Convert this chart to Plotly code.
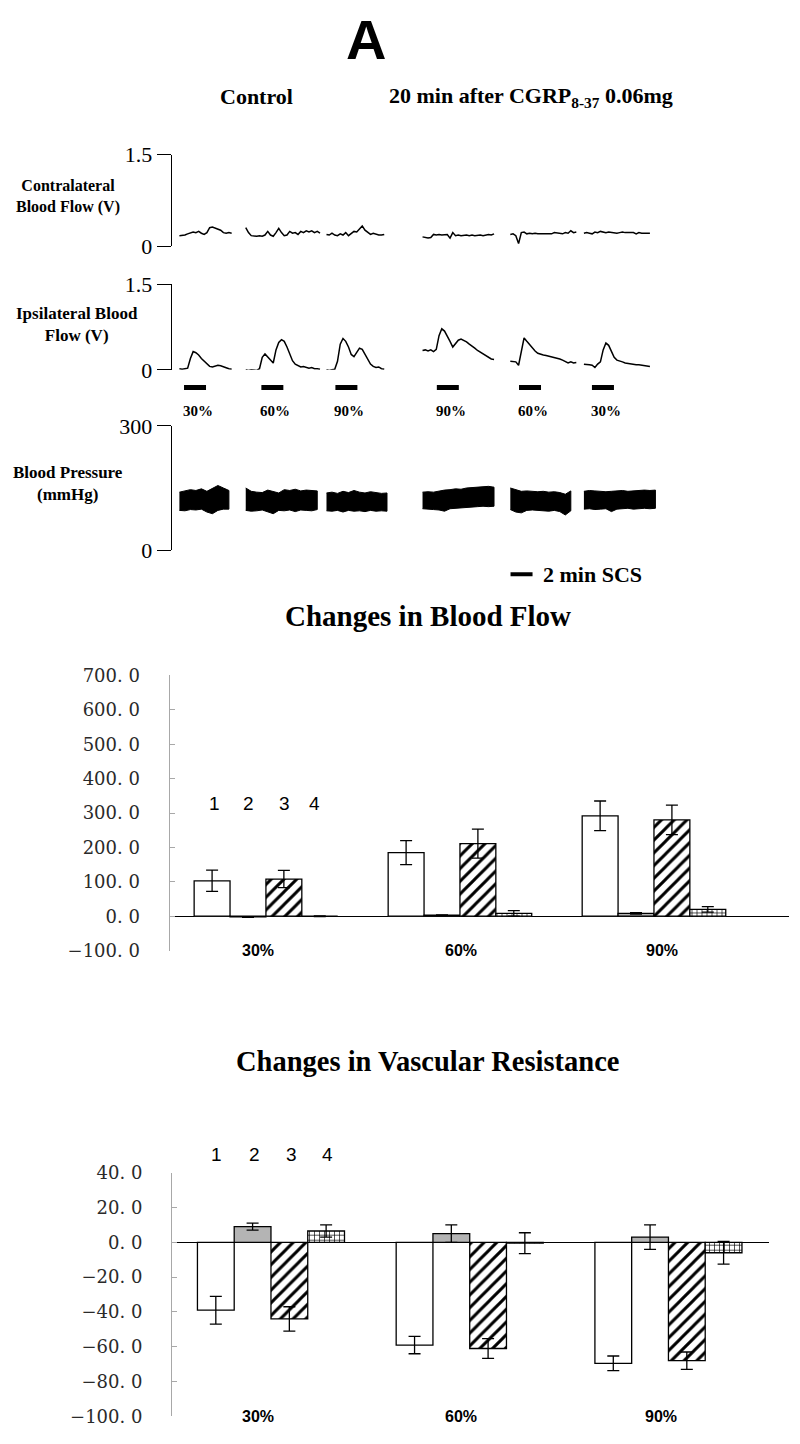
import plotly.graph_objects as go

W, H = 800, 1444

# ------------------------------------------------------------------ trace data
FLOW_STEP = 0.25          # minutes per sample (flow recordings)
BP_STEP = 0.5             # minutes per sample (pressure envelopes)
seg_start = [0.7, 6.73, 14.07, 22.8, 30.78, 37.47]   # minutes

contra = [
    [0.17, 0.17, 0.18, 0.20, 0.22, 0.23, 0.22, 0.24, 0.21, 0.19, 0.22, 0.30, 0.31, 0.29, 0.27, 0.26, 0.22, 0.21, 0.22, 0.21],
    [0.30, 0.22, 0.17, 0.16, 0.16, 0.17, 0.16, 0.18, 0.24, 0.18, 0.16, 0.22, 0.29, 0.22, 0.17, 0.18, 0.24, 0.21, 0.22, 0.19, 0.24, 0.22, 0.25, 0.23, 0.25, 0.22, 0.24, 0.21],
    [0.19, 0.18, 0.21, 0.18, 0.17, 0.20, 0.18, 0.22, 0.17, 0.20, 0.24, 0.23, 0.29, 0.33, 0.26, 0.22, 0.19, 0.21, 0.19, 0.18, 0.18, 0.19],
    [0.15, 0.14, 0.13, 0.14, 0.19, 0.18, 0.19, 0.18, 0.18, 0.19, 0.13, 0.22, 0.17, 0.18, 0.17, 0.18, 0.18, 0.17, 0.18, 0.17, 0.18, 0.18, 0.17, 0.18, 0.19, 0.18, 0.20],
    [0.19, 0.20, 0.17, 0.04, 0.22, 0.23, 0.20, 0.21, 0.20, 0.21, 0.20, 0.20, 0.21, 0.20, 0.21, 0.20, 0.22, 0.21, 0.21, 0.20, 0.22, 0.21, 0.25, 0.22, 0.23],
    [0.21, 0.22, 0.21, 0.20, 0.23, 0.22, 0.24, 0.23, 0.22, 0.23, 0.22, 0.22, 0.21, 0.22, 0.23, 0.22, 0.22, 0.21, 0.22, 0.20, 0.22, 0.21, 0.21, 0.22, 0.21],
]

ipsi = [
    [0.02, 0.01, 0.02, 0.03, 0.20, 0.32, 0.30, 0.26, 0.20, 0.15, 0.10, 0.06, 0.05, 0.07, 0.08, 0.07, 0.05, 0.03, 0.02, 0.01],
    [0.00, -0.01, 0.00, 0.00, -0.01, 0.02, 0.22, 0.28, 0.22, 0.16, 0.12, 0.35, 0.48, 0.53, 0.50, 0.40, 0.28, 0.16, 0.10, 0.07, 0.05, 0.06, 0.04, 0.03, 0.04, 0.02, 0.02, 0.01],
    [0.00, -0.01, 0.00, 0.01, 0.15, 0.45, 0.55, 0.50, 0.40, 0.27, 0.23, 0.30, 0.38, 0.36, 0.28, 0.18, 0.10, 0.06, 0.04, 0.05, 0.02, 0.01],
    [0.34, 0.35, 0.33, 0.35, 0.32, 0.36, 0.60, 0.72, 0.68, 0.60, 0.50, 0.40, 0.47, 0.52, 0.54, 0.52, 0.49, 0.45, 0.42, 0.38, 0.34, 0.31, 0.27, 0.24, 0.21, 0.19, 0.18],
    [0.15, 0.14, 0.14, 0.08, 0.30, 0.56, 0.50, 0.44, 0.38, 0.33, 0.29, 0.27, 0.26, 0.25, 0.24, 0.23, 0.22, 0.20, 0.19, 0.17, 0.15, 0.12, 0.14, 0.12, 0.13],
    [0.10, 0.10, 0.09, 0.08, 0.04, 0.10, 0.14, 0.35, 0.47, 0.43, 0.33, 0.22, 0.17, 0.16, 0.14, 0.12, 0.11, 0.11, 0.10, 0.09, 0.09, 0.08, 0.08, 0.07, 0.06],
]

bp_hi = [
    [140, 143, 146, 144, 148, 142, 150, 156, 150, 144],
    [150, 142, 140, 139, 145, 141, 138, 146, 144, 147, 143, 145, 144, 143],
    [138, 140, 137, 142, 139, 144, 140, 138, 141, 139, 137, 138],
    [140, 141, 140, 143, 145, 146, 148, 147, 150, 151, 152, 153, 154, 152],
    [150, 146, 142, 143, 142, 141, 142, 140, 141, 139, 135, 143],
    [142, 144, 143, 142, 141, 142, 143, 144, 142, 143, 144, 145, 144, 145],
]
bp_lo = [
    [96, 95, 98, 97, 99, 92, 88, 96, 99, 99],
    [96, 94, 95, 97, 92, 88, 96, 95, 97, 93, 97, 96, 95, 98],
    [95, 94, 96, 92, 96, 94, 95, 93, 96, 94, 95, 94],
    [100, 99, 98, 97, 94, 100, 101, 102, 103, 104, 105, 106, 105, 106],
    [98, 92, 90, 96, 97, 96, 95, 94, 96, 93, 85, 95],
    [99, 100, 98, 99, 100, 93, 99, 100, 101, 99, 100, 101, 100, 101],
]

stim_start = [1.12, 8.15, 14.88, 24.1, 31.57, 38.2]   # minutes
stim_dur = 2.0
stim_labels = ["30%", "60%", "90%", "90%", "60%", "30%"]
scale_bar_start = 30.8
scale_bar_len = 2.0

# ------------------------------------------------------------------ bar data
categories = ["30%", "60%", "90%"]
series_labels = ["1", "2", "3", "4"]
flow_mean = [[103, 185, 292], [-2, 3, 8], [108, 211, 280], [0, 8, 20]]
flow_err = [[31, 35, 43], [1, 1, 2], [25, 42, 43], [1, 8, 8]]
res_mean = [[-39, -59, -69.5], [9, 5, 3], [-44, -61, -68], [6.5, -0.5, -6]]
res_err = [[8, 5, 4.2], [2, 5, 7], [7, 5.7, 5], [3.5, 6, 6.5]]

flow_ticks = [700, 600, 500, 400, 300, 200, 100, 0, -100]
flow_ticktext = ["700. 0", "600. 0", "500. 0", "400. 0", "300. 0", "200. 0", "100. 0", "0. 0", "\u2212100. 0"]
res_ticks = [40, 20, 0, -20, -40, -60, -80, -100]
res_ticktext = ["40. 0", "20. 0", "0. 0", "\u221220. 0", "\u221240. 0", "\u221260. 0", "\u221280. 0", "\u2212100. 0"]

# ------------------------------------------------------------------ helpers
OFF = 8  # page body margin compensation (px)

def px(xp):
    return (xp - OFF) / W

def py(yp):
    return 1 - (yp - OFF) / H

SERIF = "Liberation Serif"
fig = go.Figure()

# trace panels
for k in range(6):
    t = [seg_start[k] + i * FLOW_STEP for i in range(len(contra[k]))]
    fig.add_trace(go.Scatter(x=t, y=contra[k], mode="lines", line=dict(color="black", width=1.5),
                             xaxis="x", yaxis="y", hoverinfo="skip"))
    t2 = [seg_start[k] + i * FLOW_STEP for i in range(len(ipsi[k]))]
    fig.add_trace(go.Scatter(x=t2, y=ipsi[k], mode="lines", line=dict(color="black", width=1.5),
                             xaxis="x2", yaxis="y2", hoverinfo="skip"))
    tb = [seg_start[k] + i * BP_STEP for i in range(len(bp_hi[k]))]
    fig.add_trace(go.Scatter(x=tb + tb[::-1], y=bp_hi[k] + bp_lo[k][::-1], mode="lines",
                             fill="toself", fillcolor="black", line=dict(color="black", width=1),
                             xaxis="x3", yaxis="y3", hoverinfo="skip"))

# bars
fills = ["white", "#b4b4b4", "white", "white"]
shapes_p = ["", "", "/", "+"]
psize = [8, 8, 9, 5]
psol = [0.3, 0.3, 0.33, 0.25]
for s in range(4):
    for (mean, err, xa, ya) in [(flow_mean, flow_err, "x4", "y4"), (res_mean, res_err, "x5", "y5")]:
        fig.add_trace(go.Bar(
            x=categories, y=mean[s], name=series_labels[s], xaxis=xa, yaxis=ya,
            marker=dict(color=fills[s], line=dict(color="black", width=1.3),
                        pattern=dict(shape=shapes_p[s], fgcolor="black", bgcolor=fills[s],
                                     size=psize[s], solidity=psol[s], fillmode="replace")),
            error_y=dict(type="data", array=err[s], color="black", thickness=1.3, width=6),
            hoverinfo="skip"))

xr = [0, 44.45]
xdom = [px(171.7), px(660.7)]
hidden_x = dict(domain=xdom, range=xr, visible=False, fixedrange=True)

def trace_y(dom, rng, text, anchor):
    return dict(domain=dom, range=rng, tickvals=rng, ticktext=text, showline=True, anchor=anchor,
                linecolor="black", linewidth=1.2, ticks="outside", ticklen=14, tickwidth=1.2,
                tickcolor="black", tickfont=dict(family=SERIF, size=22, color="black"),
                showgrid=False, zeroline=False, fixedrange=True)

def bar_y(dom, rng, tv, tt, anchor):
    return dict(domain=dom, range=rng, tickvals=tv, ticktext=tt, showline=True, anchor=anchor,
                linecolor="#a8a8a8", linewidth=1, ticks="inside", ticklen=5, tickcolor="#a8a8a8",
                tickfont=dict(family="DejaVu Serif", size=18, color="#2a2a2a"), ticklabelstandoff=25,
                showgrid=False, zeroline=True, zerolinecolor="black", zerolinewidth=1.2, fixedrange=True)

fig.update_layout(
    width=W, height=H, margin=dict(l=0, r=0, t=0, b=0), paper_bgcolor="white", plot_bgcolor="white",
    showlegend=False, barmode="group", bargap=0.26, bargroupgap=0,
    xaxis=dict(hidden_x, anchor="y"), xaxis2=dict(hidden_x, anchor="y2"), xaxis3=dict(hidden_x, anchor="y3"),
    yaxis=trace_y([py(238), py(145)], [0, 1.5], ["0", "1.5"], "x"),
    yaxis2=trace_y([py(364), py(277)], [0, 1.5], ["0", "1.5"], "x2"),
    yaxis3=trace_y([py(547.5), py(421)], [0, 300], ["0", "300"], "x3"),
    xaxis4=dict(domain=[px(169.5), px(789)], range=[-0.497, 2.696], visible=False, anchor="y4", fixedrange=True),
    yaxis4=bar_y([py(955), py(675)], [-100, 700], flow_ticks, flow_ticktext, "x4"),
    xaxis5=dict(domain=[px(172), px(769)], range=[-0.498, 2.506], visible=False, anchor="y5", fixedrange=True),
    yaxis5=bar_y([py(1429), py(1181)], [-100, 40], res_ticks, res_ticktext, "x5"),
)

ann = []
shapes = []

def note(text, x, y, size, family=SERIF, xref="paper", yref="paper", **kw):
    d = dict(text=text, x=x, y=y, xref=xref, yref=yref, showarrow=False, xanchor="center",
             yanchor="middle", font=dict(family=family, size=size, color="black"))
    d.update(kw)
    ann.append(d)

note("<b>A</b>", px(366), py(28), 56, family="Liberation Sans")
note("<b>Control</b>", px(256.5), py(86), 22)
note("<b>20 min after CGRP<sub>8-37</sub> 0.06mg</b>", px(531), py(86), 22)
note("<b>Contralateral<br>Blood Flow (V)</b>", px(68), py(188), 16)
note("<b>Ipsilateral Blood<br>Flow (V)</b>", px(77), py(318), 17)
note("<b>Blood Pressure<br>(mmHg)</b>", px(68), py(480), 17)

for s0, lab in zip(stim_start, stim_labels):
    shapes.append(dict(type="line", xref="x2", yref="paper", x0=s0, x1=s0 + stim_dur, y0=py(382), y1=py(382),
                       line=dict(color="black", width=5)))
    note("<b>" + lab + "</b>", s0 + stim_dur / 2, py(406), 15, xref="x2", xshift=3)

shapes.append(dict(type="line", xref="x3", yref="paper", x0=scale_bar_start, x1=scale_bar_start + scale_bar_len,
                   y0=py(572), y1=py(572), line=dict(color="black", width=4)))
note("<b>2 min SCS</b>", scale_bar_start + scale_bar_len + 0.8, py(572), 22, xref="x3", xanchor="left")

note("<b>Changes in Blood Flow</b>", px(427.5), py(614), 29)
note("<b>Changes in Vascular Resistance</b>", px(427), py(1068), 28.5)

for lab, xp in zip(series_labels, [215, 248, 284.5, 314.5]):
    note(lab, px(xp), py(805), 19, family="Liberation Sans")
for lab, xp in zip(series_labels, [216, 254.5, 291, 327.4]):
    note(lab, px(xp), py(1162), 19, family="Liberation Sans")

flow_label_shift = [-8, 1, 8]
res_label_shift = [-13, -9, -7]
for c, s1, s2 in zip(categories, flow_label_shift, res_label_shift):
    note("<b>" + c + "</b>", c, -100, 16, family="Liberation Sans", xref="x4", yref="y4", xshift=s1)
    note("<b>" + c + "</b>", c, -100, 16, family="Liberation Sans", xref="x5", yref="y5", xshift=s2)

fig.update_layout(annotations=ann, shapes=shapes)
fig.write_html("out.html")
